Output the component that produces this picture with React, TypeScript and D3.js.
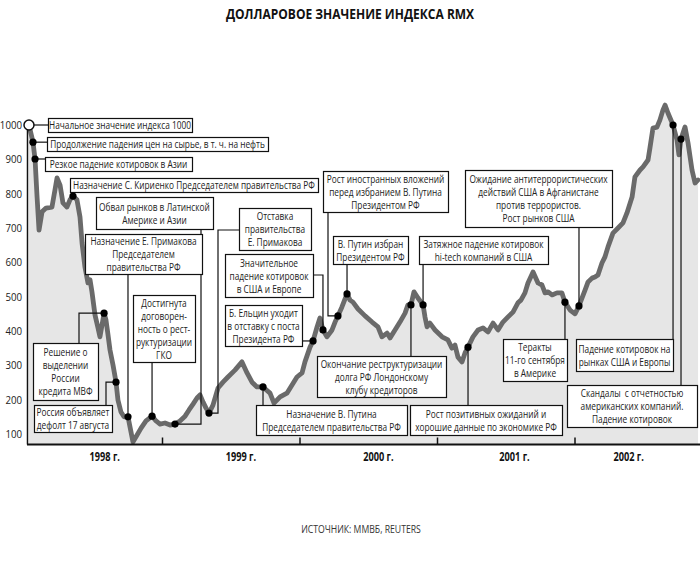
import React from "react";
import * as d3 from "d3";

// ---- Data (fractional year, index value) ----
const dates = [
  1998.029, 1998.058, 1998.073, 1998.087, 1998.102, 1998.124, 1998.153, 1998.196, 1998.218, 1998.233,
  1998.255, 1998.276, 1998.305, 1998.327, 1998.349, 1998.378, 1998.4, 1998.415, 1998.436, 1998.458,
  1998.473, 1998.487, 1998.509, 1998.531, 1998.545, 1998.56, 1998.575, 1998.589, 1998.604, 1998.618,
  1998.64, 1998.662, 1998.676, 1998.698, 1998.72, 1998.749, 1998.771, 1998.785, 1998.815, 1998.844,
  1998.88, 1998.924, 1998.953, 1998.982, 1999.018, 1999.055, 1999.091, 1999.127, 1999.164, 1999.193,
  1999.222, 1999.251, 1999.273, 1999.295, 1999.316, 1999.338, 1999.367, 1999.404, 1999.44, 1999.476,
  1999.527, 1999.578, 1999.615, 1999.651, 1999.687, 1999.731, 1999.782, 1999.811, 1999.855, 1999.905,
  1999.942, 1999.978, 2000.015, 2000.036, 2000.073, 2000.095, 2000.124, 2000.145, 2000.167, 2000.196,
  2000.233, 2000.255, 2000.276, 2000.305, 2000.342, 2000.364, 2000.385, 2000.422, 2000.473, 2000.524,
  2000.567, 2000.596, 2000.633, 2000.655, 2000.691, 2000.727, 2000.764, 2000.785, 2000.807, 2000.829,
  2000.858, 2000.895, 2000.909, 2000.924, 2000.945, 2000.982, 2001.033, 2001.076, 2001.105, 2001.127,
  2001.149, 2001.178, 2001.2, 2001.222, 2001.258, 2001.295, 2001.331, 2001.367, 2001.404, 2001.44,
  2001.476, 2001.513, 2001.549, 2001.585, 2001.607, 2001.636, 2001.658, 2001.695, 2001.731, 2001.76,
  2001.782, 2001.804, 2001.833, 2001.869, 2001.905, 2001.927, 2001.964, 2002.0, 2002.029, 2002.073,
  2002.095, 2002.124, 2002.145, 2002.167, 2002.196, 2002.218, 2002.24, 2002.276, 2002.313, 2002.349,
  2002.378, 2002.415, 2002.436, 2002.473, 2002.495, 2002.531, 2002.545, 2002.567, 2002.596, 2002.618,
  2002.64, 2002.655, 2002.676, 2002.713, 2002.742, 2002.756, 2002.771, 2002.8, 2002.822, 2002.851,
  2002.873, 2002.895,
];
const values = [
  1000, 950, 901, 796, 694, 747, 758, 761, 811, 846,
  825, 773, 761, 782, 793, 782, 732, 656, 586, 540,
  549, 514, 447, 409, 383, 417, 452, 432, 388, 345,
  301, 251, 199, 164, 150, 150, 106, 77, 97, 117,
  138, 152, 138, 129, 132, 126, 129, 138, 152, 170,
  187, 205, 214, 193, 176, 161, 184, 234, 251, 266,
  286, 310, 278, 251, 237, 237, 219, 190, 208, 219,
  243, 266, 278, 310, 353, 371, 412, 438, 403, 383,
  403, 426, 444, 470, 508, 490, 484, 464, 444, 426,
  412, 383, 394, 380, 403, 426, 452, 476, 476, 514,
  496, 476, 441, 412, 423, 403, 383, 374, 350, 359,
  324, 310, 336, 353, 383, 403, 409, 397, 423, 403,
  426, 441, 455, 482, 490, 511, 540, 572, 540, 534,
  511, 514, 505, 511, 511, 484, 461, 450, 473, 519,
  543, 554, 557, 563, 598, 616, 645, 685, 700, 715,
  744, 790, 849, 869, 878, 898, 933, 991, 994, 1015,
  1044, 1058, 1035, 1000, 956, 913, 959, 994, 948, 869,
  831, 840,
];

const yTicks = [100, 200, 300, 400, 500, 600, 700, 800, 900, 1000];
const yearTicks = [1999, 2000, 2001, 2002];
const yearLabels = ["1998 г.", "1999 г.", "2000 г.", "2001 г.", "2002 г."];
const yearLabelAt = [1998.58, 1999.57, 2000.57, 2001.56, 2002.39];

const eventDates = [
  1998.029, 1998.058, 1998.073, 1998.349, 1998.575, 1998.662, 1998.749, 1998.924, 1999.091, 1999.338,
  1999.731, 2000.095, 2000.167, 2000.276, 2000.342, 2000.807, 2000.895, 2001.222, 2001.927, 2002.029,
  2002.713, 2002.771,
];
const eventTexts: string[][] = [
  ["Начальное значение индекса 1000"],
  ["Продолжение падения цен на сырье, в т. ч. на нефть"],
  ["Резкое падение котировок в Азии"],
  ["Назначение С. Кириенко Председателем правительства РФ"],
  ["Решение о", "выделении", "России", "кредита МВФ"],
  ["Россия объявляет", "дефолт 17 августа"],
  ["Назначение Е. Примакова", "Председателем", "правительства РФ"],
  ["Достигнута", "договорен-", "ность о рест-", "руктуризации", "ГКО"],
  ["Обвал рынков в Латинской", "Америке и Азии"],
  ["Отставка", "правительства", "Е. Примакова"],
  ["Назначение В. Путина", "Председателем правительства РФ"],
  ["Б. Ельцин уходит", "в отставку с поста", "Президента РФ"],
  ["Значительное", "падение котировок", "в США и Европе"],
  ["Рост иностранных вложений", "перед избранием В. Путина", "Президентом РФ"],
  ["В. Путин избран", "Президентом РФ"],
  ["Окончание реструктуризации", "долга РФ Лондонскому", "клубу кредиторов"],
  ["Затяжное падение котировок", "hi-tech компаний в США"],
  ["Рост позитивных ожиданий и", "хорошие данные по экономике РФ"],
  ["Теракты", "11-го сентября", "в Америке"],
  ["Ожидание антитеррористических", "действий США в Афганистане", "против террористов.", "Рост рынков США"],
  ["Падение котировок на", "рынках США и Европы"],
  ["Скандалы  с отчетностью", "американских компаний.", "Падение котировок"],
];

// ---- Layout of annotation boxes [x0, y0, x1, y1] and connector waypoints ----
type P = [number | null, number | null];
const boxLayout: [number, number, number, number][] = [
  [48, 118, 192, 132],
  [47, 137, 268, 151],
  [45, 157, 192, 171],
  [70, 178, 318, 192],
  [33, 343, 98, 400],
  [34, 405, 112, 432],
  [85, 234, 202, 274],
  [133, 295, 195, 362],
  [96, 197, 213, 229],
  [239, 208, 311, 250],
  [256, 405, 407, 435],
  [225, 305, 302, 346],
  [225, 254, 313, 297],
  [323, 171, 448, 212],
  [333, 236, 408, 264],
  [317, 356, 446, 397],
  [419, 236, 548, 264],
  [410, 405, 562, 435],
  [503, 339, 567, 381],
  [465, 170, 612, 227],
  [576, 339, 673, 371],
  [567, 385, 697, 427],
];
const routes: P[][] = [
  [[48, null]],
  [[47, null]],
  [[45, null]],
  [[null, 192]],
  [[79, 343], [79, null]],
  [[106, 405], [106, null]],
  [[null, 274]],
  [[null, 362]],
  [[201, 229], [201, null]],
  [[239, 230], [218, 230], [218, null]],
  [[null, 405]],
  [[302, null]],
  [[313, 275], [null, 275]],
  [[328, 212], [328, null]],
  [[null, 264]],
  [[null, 356]],
  [[null, 264]],
  [[null, 405]],
  [[null, 339]],
  [[null, 227]],
  [[null, 339]],
  [[null, 385]],
];

const FONT = "'Open Sans', 'DejaVu Sans', sans-serif";
const SX = 0.79;

function T(props: any) {
  const { x, y, s, children, ...rest } = props;
  return (
    <text transform={`translate(${x},${y}) scale(${s},1)`} {...rest}>
      {children}
    </text>
  );
}

export default function App() {
  const W = 700, H = 568;
  const x = d3.scaleLinear().domain([1998, 2003]).range([25, 712.5]);
  const y = d3.scaleLinear().domain([100, 1000]).range([434, 125]);
  const axisY = 444.5;
  const pts = dates.map((d, i) => [d, values[i]] as [number, number]);
  const area = d3.area<[number, number]>().x(d => x(d[0])).y0(axisY).y1(d => y(d[1]));
  const line = d3.line<[number, number]>().x(d => x(d[0])).y(d => y(d[1]));
  const valueAt = (d: number) => values[dates.indexOf(d)];

  return (
    <svg width={W} height={H} style={{ position: "absolute", left: 0, top: 0, background: "#fff" }} fontFamily={FONT}>
      <T x={350} y={19} s={0.8} textAnchor="middle" fontWeight="bold" fontSize={15} fill="#111">
        ДОЛЛАРОВОЕ ЗНАЧЕНИЕ ИНДЕКСА RMX
      </T>
      <path d={area(pts) || ""} fill="#e6e6e6" />
      <path d={line(pts) || ""} fill="none" stroke="#6a6a6a" strokeWidth={4.8} strokeLinejoin="round" strokeLinecap="round" />
      {/* axes */}
      <line x1={27.5} x2={27.5} y1={126} y2={axisY} stroke="#111" strokeWidth={1.5} />
      <line x1={27} x2={700} y1={axisY} y2={axisY} stroke="#111" strokeWidth={2} />
      {yearTicks.map(t => (
        <line key={t} x1={x(t)} x2={x(t)} y1={axisY} y2={axisY - 7} stroke="#111" strokeWidth={1.5} />
      ))}
      {yTicks.map(t => (
        <T key={t} x={22} y={y(t) + 4} s={0.88} textAnchor="end" fontSize={11} fill="#222">{t}</T>
      ))}
      {yearLabels.map((l, i) => (
        <T key={l} x={x(yearLabelAt[i])} y={461} s={0.8} textAnchor="middle" fontSize={11.5} fontWeight="bold" fill="#111">{l}</T>
      ))}
      {/* connectors */}
      {eventDates.map((d, i) => {
        const dx = x(d), dy = y(valueAt(d));
        const ps = routes[i].map(p => [p[0] === null ? dx : p[0], p[1] === null ? dy : p[1]]);
        ps.push([dx, dy]);
        return <polyline key={"c" + i} points={ps.map(p => p.join(",")).join(" ")} fill="none" stroke="#111" strokeWidth={1.2} />;
      })}
      {/* boxes */}
      {boxLayout.map((b, i) => {
        const lines = eventTexts[i];
        const lh = 13;
        const cx = (b[0] + b[2]) / 2;
        const cy = (b[1] + b[3]) / 2;
        const top = cy - (lines.length - 1) * lh / 2;
        return (
          <g key={"b" + i}>
            <rect x={b[0] + 0.5} y={b[1] + 0.5} width={b[2] - b[0]} height={b[3] - b[1]} fill="#fff" stroke="#111" strokeWidth={1.2} />
            {lines.map((t, j) => (
              <T key={j} x={cx} y={top + j * lh + 4} s={SX} textAnchor="middle" fontSize={10.5} fill="#222" xmlSpace="preserve">{t}</T>
            ))}
          </g>
        );
      })}
      {/* dots */}
      {eventDates.map((d, i) => (
        i === 0 ? (
          <circle key={"d" + i} cx={x(d)} cy={y(valueAt(d))} r={5} fill="#fff" stroke="#111" strokeWidth={1.5} />
        ) : (
          <circle key={"d" + i} cx={x(d)} cy={y(valueAt(d))} r={3.6} fill="#000" />
        )
      ))}
      <T x={361} y={533} s={SX} textAnchor="middle" fontSize={11} fill="#333">ИСТОЧНИК: ММВБ, REUTERS</T>
    </svg>
  );
}
